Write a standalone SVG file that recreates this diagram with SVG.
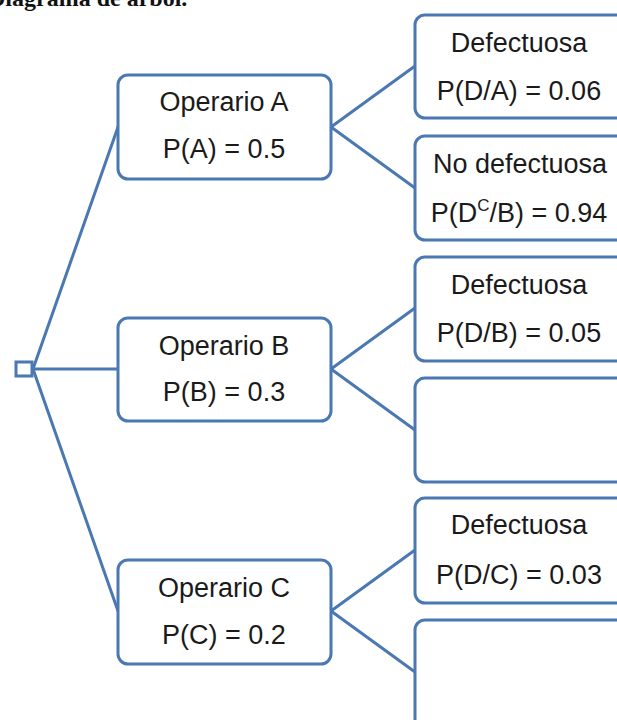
<svg xmlns="http://www.w3.org/2000/svg" width="617" height="720" viewBox="0 0 617 720">
  <style>
    .box { fill: #ffffff; stroke: #4a78b2; stroke-width: 3; }
    .conn { fill: none; stroke: #4a78b2; stroke-width: 3; stroke-linecap: round; }
    .lbl { font-family: "Liberation Sans", Arial, sans-serif; font-size: 27px; fill: #1a1a1a; text-anchor: middle; }
    .title { font-family: "Liberation Serif", "Times New Roman", serif; font-size: 24px; font-weight: bold; fill: #111; }
  </style>
  <rect width="617" height="720" fill="#ffffff"/>
  <text class="title" x="-12" y="6">Diagrama de árbol.</text>

  <g id="connectors">
    <line class="conn" x1="33" y1="369" x2="118" y2="127"/>
    <line class="conn" x1="33" y1="369" x2="118" y2="369"/>
    <line class="conn" x1="33" y1="369" x2="118" y2="611"/>
    <line class="conn" x1="331" y1="127" x2="415" y2="66"/>
    <line class="conn" x1="331" y1="127" x2="415" y2="188"/>
    <line class="conn" x1="331" y1="369" x2="415" y2="308"/>
    <line class="conn" x1="331" y1="369" x2="415" y2="430"/>
    <line class="conn" x1="331" y1="611" x2="415" y2="550"/>
    <line class="conn" x1="331" y1="611" x2="415" y2="672"/>
  </g>

  <g id="root">
    <rect class="box" x="16" y="362" width="16" height="14"/>
  </g>

  <g id="opA">
    <rect class="box" x="118" y="75" width="213" height="104" rx="10"/>
    <text class="lbl" x="224" y="111">Operario A</text>
    <text class="lbl" x="224" y="158">P(A) = 0.5</text>
  </g>
  <g id="opB">
    <rect class="box" x="118" y="318" width="213" height="103" rx="10"/>
    <text class="lbl" x="224" y="355">Operario B</text>
    <text class="lbl" x="224" y="401">P(B) = 0.3</text>
  </g>
  <g id="opC">
    <rect class="box" x="118" y="560" width="213" height="104" rx="10"/>
    <text class="lbl" x="224" y="597">Operario C</text>
    <text class="lbl" x="224" y="644">P(C) = 0.2</text>
  </g>

  <g id="A_def">
    <rect class="box" x="415" y="15" width="230" height="103" rx="10"/>
    <text class="lbl" x="519" y="52">Defectuosa</text>
    <text class="lbl" x="519" y="100">P(D/A) = 0.06</text>
  </g>
  <g id="A_nodef">
    <rect class="box" x="415" y="136" width="230" height="104" rx="10"/>
    <text class="lbl" x="520" y="173">No defectuosa</text>
    <text class="lbl" x="519" y="222">P(D<tspan font-size="17" dy="-11">C</tspan><tspan dy="11">/B) = 0.94</tspan></text>
  </g>
  <g id="B_def">
    <rect class="box" x="415" y="257" width="230" height="104" rx="10"/>
    <text class="lbl" x="519" y="294">Defectuosa</text>
    <text class="lbl" x="519" y="342">P(D/B) = 0.05</text>
  </g>
  <g id="B_nodef">
    <rect class="box" x="415" y="378" width="230" height="104" rx="10"/>
  </g>
  <g id="C_def">
    <rect class="box" x="415" y="498" width="230" height="105" rx="10"/>
    <text class="lbl" x="519" y="534">Defectuosa</text>
    <text class="lbl" x="519" y="584">P(D/C) = 0.03</text>
  </g>
  <g id="C_nodef">
    <rect class="box" x="415" y="620" width="230" height="110" rx="10"/>
  </g>
</svg>
